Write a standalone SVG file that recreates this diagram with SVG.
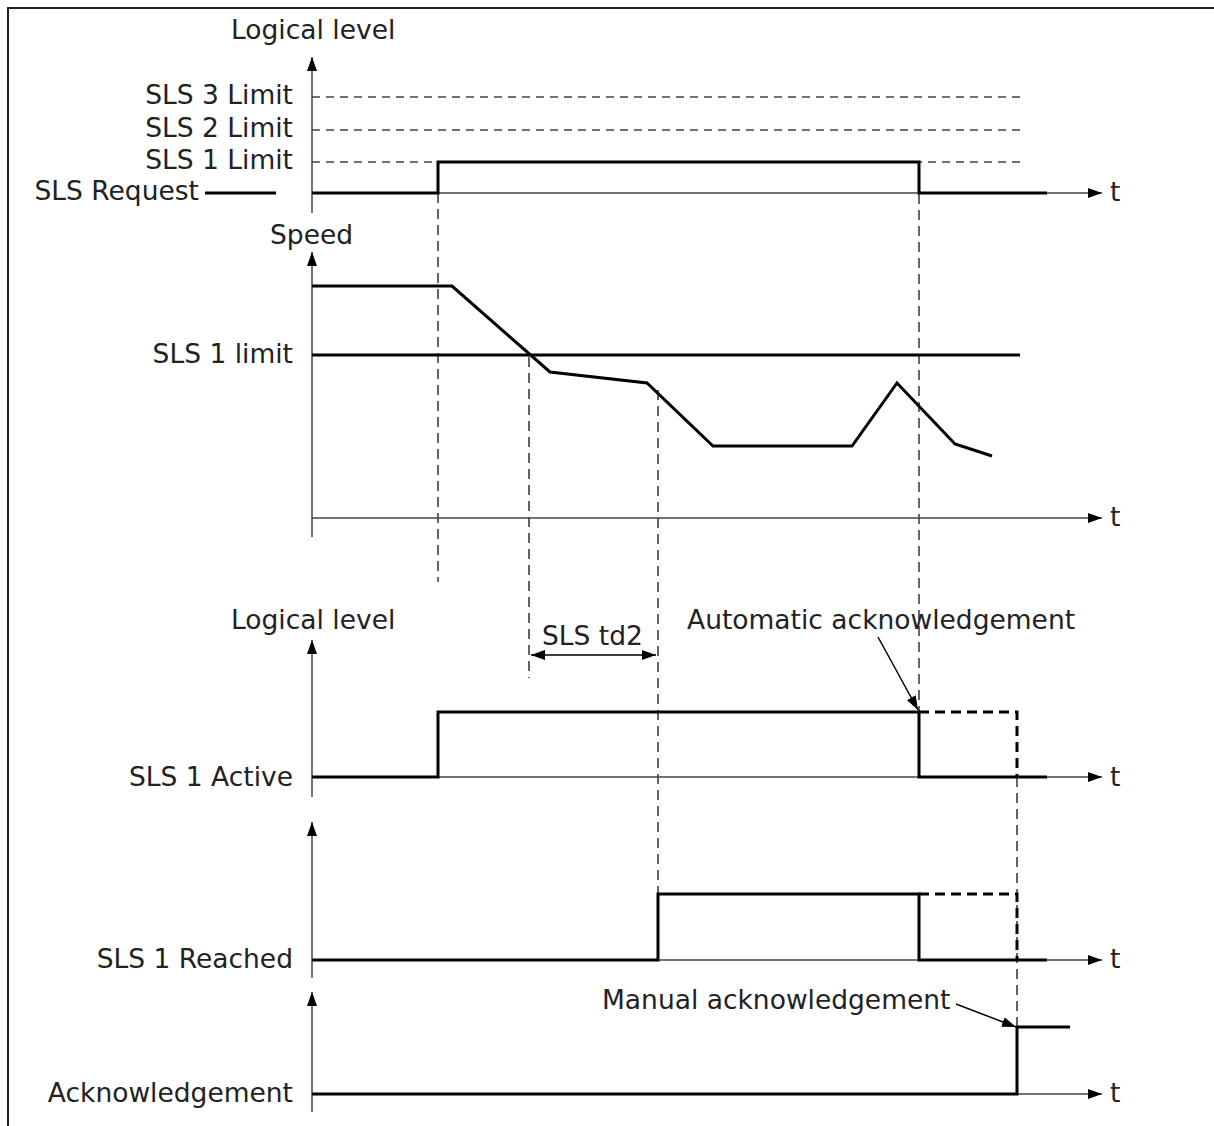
<svg xmlns="http://www.w3.org/2000/svg" width="1214" height="1126" viewBox="0 0 1214 1126">
<defs>
<marker id="ah" markerWidth="14" markerHeight="10" refX="14" refY="5" orient="auto" markerUnits="userSpaceOnUse"><path d="M0,0 L14,5 L0,10 z" fill="#000"/></marker>
<marker id="ahs" markerWidth="14" markerHeight="10" refX="0" refY="5" orient="auto" markerUnits="userSpaceOnUse"><path d="M14,0 L0,5 L14,10 z" fill="#000"/></marker>
<style>
text{font-family:"DejaVu Sans","Liberation Sans",sans-serif;font-size:26.5px;fill:#222}
.r{text-anchor:end}
.ax{stroke:#444;stroke-width:1.5;fill:none}
.sig{stroke:#000;stroke-width:3;fill:none}
.sigd{stroke:#000;stroke-width:3;fill:none;stroke-dasharray:10 6}
.lim{stroke:#444;stroke-width:1.5;fill:none;stroke-dasharray:8 6}
.vd{stroke:#333;stroke-width:1.5;fill:none;stroke-dasharray:10 6}
.ld{stroke:#000;stroke-width:1.5;fill:none}
</style>
</defs>
<rect width="1214" height="1126" fill="#fff"/>
<path d="M8,1126 V8 H1214" stroke="#222" stroke-width="2" fill="none"/>

<g id="connectors">
<line class="vd" x1="438" y1="193" x2="438" y2="582"/>
<line class="vd" x1="919" y1="162" x2="919" y2="712"/>
<line class="vd" x1="529" y1="357" x2="529" y2="678"/>
<line class="vd" x1="658" y1="390" x2="658" y2="894"/>
<line class="vd" x1="1017" y1="777" x2="1017" y2="1027"/>
<line class="ld" x1="531" y1="655" x2="656" y2="655" marker-start="url(#ahs)" marker-end="url(#ah)"/>
<line class="ld" x1="878" y1="637" x2="918" y2="710" marker-end="url(#ah)"/>
<line class="ld" x1="956" y1="1004" x2="1016" y2="1027" marker-end="url(#ah)"/>
</g>

<g id="chart-request">
<text x="231" y="39">Logical level</text>
<line class="ax" x1="312" y1="213" x2="312" y2="57" marker-end="url(#ah)"/>
<line class="ax" x1="312" y1="193" x2="1102" y2="193" marker-end="url(#ah)"/>
<text x="1110" y="201">t</text>
<line class="lim" x1="312" y1="97" x2="1020" y2="97"/>
<line class="lim" x1="312" y1="130" x2="1020" y2="130"/>
<line class="lim" x1="312" y1="162" x2="1020" y2="162"/>
<text class="r" x="293" y="104">SLS 3 Limit</text>
<text class="r" x="293" y="137">SLS 2 Limit</text>
<text class="r" x="293" y="169">SLS 1 Limit</text>
<text class="r" x="199" y="200">SLS Request</text>
<line class="sig" x1="205" y1="193" x2="276" y2="193" stroke-width="2.5"/>
<path class="sig" d="M312,193 H438 V162 H919 V193 H1047"/>
</g>

<g id="chart-speed">
<text x="270" y="244">Speed</text>
<line class="ax" x1="312" y1="537" x2="312" y2="252" marker-end="url(#ah)"/>
<line class="ax" x1="312" y1="518" x2="1102" y2="518" marker-end="url(#ah)"/>
<text x="1110" y="526">t</text>
<line class="sig" x1="312" y1="355" x2="1020" y2="355"/>
<text class="r" x="293" y="363">SLS 1 limit</text>
<path class="sig" d="M312,286 H452 L550,372 L647,383 L713,446 H852 L897,383 L955,444 L992,456" stroke-linejoin="miter"/>
</g>

<g id="chart-active">
<text x="231" y="629">Logical level</text>
<text x="542" y="645">SLS td2</text>
<text x="687" y="629">Automatic acknowledgement</text>
<line class="ax" x1="312" y1="797" x2="312" y2="640" marker-end="url(#ah)"/>
<line class="ax" x1="312" y1="777" x2="1102" y2="777" marker-end="url(#ah)"/>
<text x="1110" y="786">t</text>
<text class="r" x="293" y="786">SLS 1 Active</text>
<path class="sig" d="M312,777 H438 V712 H919 V777 H1047"/>
<path class="sigd" d="M919,712 H1017 V777"/>
</g>

<g id="chart-reached">
<line class="ax" x1="312" y1="978" x2="312" y2="822" marker-end="url(#ah)"/>
<line class="ax" x1="312" y1="960" x2="1102" y2="960" marker-end="url(#ah)"/>
<text x="1110" y="968">t</text>
<text class="r" x="293" y="968">SLS 1 Reached</text>
<path class="sig" d="M312,960 H658 V894 H919 V960 H1047"/>
<path class="sigd" d="M919,894 H1017 V960"/>
</g>

<g id="chart-ack">
<line class="ax" x1="312" y1="1112" x2="312" y2="992" marker-end="url(#ah)"/>
<line class="ax" x1="312" y1="1094" x2="1102" y2="1094" marker-end="url(#ah)"/>
<text x="1110" y="1102">t</text>
<text class="r" x="293" y="1102">Acknowledgement</text>
<text x="602" y="1009">Manual acknowledgement</text>
<path class="sig" d="M312,1094 H1017 V1027 H1070"/>
</g>
</svg>
